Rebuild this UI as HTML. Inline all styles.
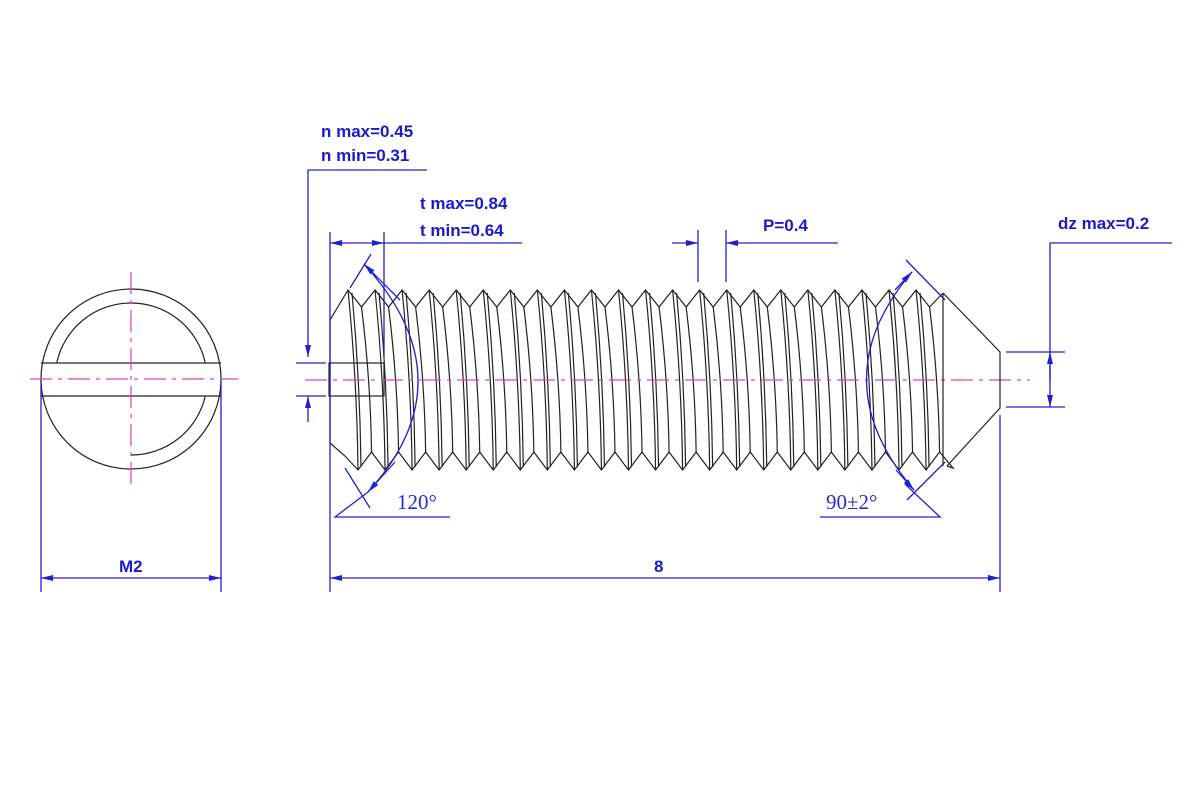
<!DOCTYPE html>
<html><head><meta charset="utf-8">
<style>
html,body{margin:0;padding:0;background:#fff;}
svg{display:block;}
.b{stroke:#2020d0;stroke-width:1.3;fill:none;}
.k{stroke:#222;stroke-width:1.2;fill:none;}
.m{stroke:#e040c0;stroke-width:1.2;fill:none;stroke-dasharray:22 6 4 6;}
.t{font-family:"Liberation Sans",sans-serif;font-weight:bold;font-size:17px;fill:#1a1acc;}
.s{font-family:"Liberation Serif",serif;font-size:21px;fill:#2a2acc;}
</style></head>
<body>
<svg id="sv" width="1200" height="800" viewBox="0 0 1200 800" xmlns="http://www.w3.org/2000/svg">
<defs>
<marker id="ar" viewBox="0 0 12 6" refX="12" refY="3" markerWidth="12" markerHeight="6" markerUnits="userSpaceOnUse" orient="auto">
<path d="M0,0 L12,3 L0,6 Z" fill="#2020d0"/></marker>
</defs>
<!-- left view -->
<circle cx="131" cy="379" r="90" class="k"/>
<path class="k" d="M56.7,363 A76,76 0 0 1 205.3,363"/>
<path class="k" d="M205.3,396 A76,76 0 0 1 131,455"/>
<line class="k" x1="41" y1="363" x2="221" y2="363"/>
<line class="k" x1="41" y1="396" x2="221" y2="396"/>
<line class="m" x1="30" y1="379" x2="238" y2="379"/>
<line class="m" x1="131" y1="272" x2="131" y2="488"/>
<!-- threads -->
<g id="thr"></g>
<!-- slot -->
<rect x="329" y="363" width="55" height="33" fill="#fff" class="k"/>
<line class="m" x1="305" y1="380" x2="1030" y2="380"/>
<!-- cone -->
<path class="k" d="M943,293 L1000,352 L1000,408 L947,466"/>
<line class="k" x1="943" y1="293" x2="943" y2="466"/>
<!-- n dims -->
<text class="t" x="321" y="137">n max=0.45</text>
<text class="t" x="321" y="161">n min=0.31</text>
<path class="b" d="M427,170 L308,170 L308,357" marker-end="url(#ar)"/>
<line class="b" x1="308" y1="422" x2="308" y2="396" marker-end="url(#ar)"/>
<line class="b" x1="296" y1="363" x2="326" y2="363"/>
<line class="b" x1="296" y1="396" x2="326" y2="396"/>
<!-- t dims -->
<text class="t" x="420" y="209">t max=0.84</text>
<text class="t" x="420" y="236">t min=0.64</text>
<line class="b" x1="357" y1="243" x2="330" y2="243" marker-end="url(#ar)"/>
<line class="b" x1="357" y1="243" x2="384" y2="243" marker-end="url(#ar)"/>
<line class="b" x1="384" y1="243" x2="522" y2="243"/>
<line class="b" x1="330" y1="232" x2="330" y2="592"/>
<line class="b" x1="384" y1="232" x2="384" y2="357"/>
<!-- P -->
<text class="t" x="763" y="231">P=0.4</text>
<line class="b" x1="698" y1="230" x2="698" y2="282"/>
<line class="b" x1="726" y1="230" x2="726" y2="282"/>
<line class="b" x1="672" y1="243" x2="698" y2="243" marker-end="url(#ar)"/>
<line class="b" x1="838" y1="243" x2="726" y2="243" marker-end="url(#ar)"/>
<!-- dz -->
<text class="t" x="1058" y="229">dz max=0.2</text>
<path class="b" d="M1172,243 L1050,243 L1050,380"/>
<line class="b" x1="1050" y1="380" x2="1050" y2="352" marker-end="url(#ar)"/>
<line class="b" x1="1050" y1="380" x2="1050" y2="407" marker-end="url(#ar)"/>
<line class="b" x1="1006" y1="352" x2="1065" y2="352"/>
<line class="b" x1="1006" y1="407" x2="1065" y2="407"/>
<!-- 8 -->
<text class="t" x="654" y="572">8</text>
<line class="b" x1="665" y1="578" x2="330" y2="578" marker-end="url(#ar)"/>
<line class="b" x1="665" y1="578" x2="1000" y2="578" marker-end="url(#ar)"/>
<line class="b" x1="1000" y1="415" x2="1000" y2="592"/>
<!-- M2 -->
<text class="t" x="119" y="572">M2</text>
<line class="b" x1="131" y1="578" x2="41" y2="578" marker-end="url(#ar)"/>
<line class="b" x1="131" y1="578" x2="221" y2="578" marker-end="url(#ar)"/>
<line class="b" x1="41" y1="380" x2="41" y2="592"/>
<line class="b" x1="221" y1="380" x2="221" y2="592"/>
<!-- 120 -->
<line class="b" x1="371" y1="254" x2="350" y2="288"/>
<line class="b" x1="345" y1="468" x2="370" y2="508"/>
<path class="b" d="M368,492 Q470,380 364,264" />
<line class="b" x1="400" y1="300" x2="364" y2="264" marker-end="url(#ar)"/>
<line class="b" x1="395" y1="462" x2="368" y2="492" marker-end="url(#ar)"/>
<path class="b" d="M450,517 L335,517 L368,492"/>
<text class="s" x="397" y="509">120°</text>
<!-- 90 -->
<line class="b" x1="906" y1="260" x2="945" y2="300"/>
<line class="b" x1="907" y1="500" x2="945" y2="462"/>
<path class="b" d="M912,272 Q820,380 914,490"/>
<line class="b" x1="895" y1="290" x2="912" y2="272" marker-end="url(#ar)"/>
<line class="b" x1="896" y1="470" x2="914" y2="490" marker-end="url(#ar)"/>
<path class="b" d="M820,517 L940,517 L905,484"/>
<text class="s" x="826" y="509">90±2°</text>
</svg>
<script>
(function(){
var g=document.getElementById('thr'),s='';
var P=27.05,N=22;
var tp='M330,443 L330,320 L348,290',bt='M330,443 L345,456 L358,470';
for(var i=0;i<N;i++){
 var x=348+P*i;
 if(i>0) tp+=' L'+x+',290';
 tp+=' L'+(x+P/2)+',307';
 var xb=x+10;
 if(i>0) bt+=' L'+xb+',470';
 bt+=' L'+(xb+P/2)+',452';
 s+='<path class="k" d="M'+x+',290 Q'+(x+9)+',380 '+(x+10)+',470"/>';
 s+='<path class="k" d="M'+(x+4)+',293 Q'+(x+12)+',380 '+(x+13)+',467"/>';
 s+='<path class="k" d="M'+(x+P/2)+',307 Q'+(x+P/2+9)+',380 '+(x+P/2+10)+',452"/>';
}
tp+=' L943,293';
bt+=' L'+(348+P*N+10)+',468 L947,466';
s='<path class="k" d="'+tp+'"/><path class="k" d="'+bt+'"/>'+s;
g.innerHTML=s;
})();
</script>
</body></html>
